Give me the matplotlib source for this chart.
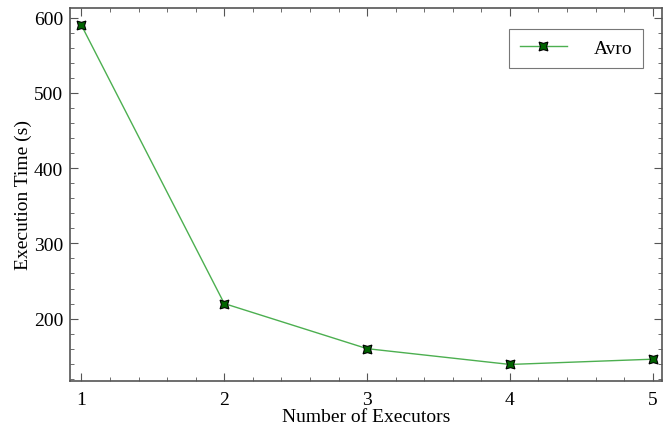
from matplotlib import pyplot as plt
from matplotlib.ticker import MultipleLocator

executors = [1, 2, 3, 4, 5]
avro_time = [590, 220, 160, 139, 146]

plt.rcParams["font.family"] = ["Liberation Serif", "DejaVu Serif"]
plt.rcParams["font.size"] = 14

fig = plt.figure(figsize=(6.64, 4.31), dpi=100)
ax = fig.add_axes([70 / 664, 1 - 382 / 431, 592 / 664, 373 / 431])

ax.plot(executors, avro_time, color="#4caf50", linewidth=1,
        marker=(4, 1, 45), markersize=9, markerfacecolor="darkgreen",
        markeredgecolor="black", markeredgewidth=0.8, label="Avro")

ax.set_xlim(0.92, 5.065)
ax.set_ylim(117, 613)
ax.xaxis.set_major_locator(MultipleLocator(1))
ax.xaxis.set_minor_locator(MultipleLocator(0.2))
ax.yaxis.set_major_locator(MultipleLocator(100))
ax.yaxis.set_minor_locator(MultipleLocator(20))
ax.tick_params(which="both", direction="in", top=True, right=True,
               color="#555555")
ax.tick_params(which="major", length=6)
ax.tick_params(which="minor", length=3)
ax.tick_params(axis="x", which="major", pad=7)
ax.tick_params(axis="y", which="major", pad=5)
for s in ax.spines.values():
    s.set_color("#555555")
    s.set_linewidth(1.2)

ax.set_xlabel("Number of Executors", labelpad=0)
ax.set_ylabel("Execution Time (s)", labelpad=1)
leg = ax.legend(loc="upper right", fancybox=False, edgecolor="#555555",
                borderpad=0.55, handlelength=2.4, handletextpad=1.4,
                borderaxespad=0, bbox_to_anchor=(0.968, 0.944))
leg.get_frame().set_linewidth(0.8)

fig.savefig("out.png", dpi=100)
